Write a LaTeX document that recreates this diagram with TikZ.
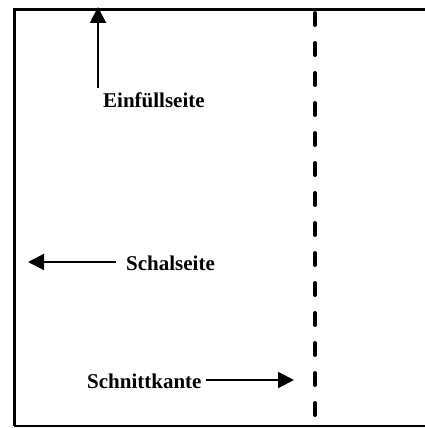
\documentclass[tikz,border=0pt]{standalone}
\usepackage{fontspec}
\setmainfont{Liberation Serif}
\usetikzlibrary{arrows.meta}
\begin{document}
\begin{tikzpicture}[x=1pt,y=-1pt,
  lbl/.style={font=\fontsize{21}{25}\selectfont\bfseries, inner sep=0pt},
  arr/.style={line width=2pt, -{Triangle[length=16pt,width=16pt]}},
  frame/.style={line width=3pt},
  cut/.style={line width=4pt, line cap=round, dash pattern=on 12pt off 18pt}]
\useasboundingbox (0,0) rectangle (425,428);
\coordinate (tl) at (14,10);
\coordinate (tr) at (425,10);
\coordinate (bl) at (14,426);
\coordinate (br) at (425,426);
\draw[frame] (tr) -- (tl) -- (bl);
\draw[line width=1.5pt] (bl) -- (br);
\coordinate (ct) at (315,13);
\coordinate (cb) at (315,417);
\draw[cut] (ct) -- (cb);
% Einfuellseite
\node[lbl, anchor=west] (ein) at (103,100) {Einfüllseite};
\coordinate (einS) at (98,88);
\coordinate (einT) at (98,7);
\draw[arr] (einS) -- (einT);
% Schalseite
\node[lbl, anchor=west] (sch) at (126,263) {Schalseite};
\coordinate (schS) at (116,262);
\coordinate (schT) at (28,262);
\draw[arr] (schS) -- (schT);
% Schnittkante
\node[lbl, anchor=west] (snk) at (87,381) {Schnittkante};
\coordinate (snkS) at (206,380);
\coordinate (snkT) at (294,380);
\draw[arr] (snkS) -- (snkT);
\end{tikzpicture}
\end{document}
